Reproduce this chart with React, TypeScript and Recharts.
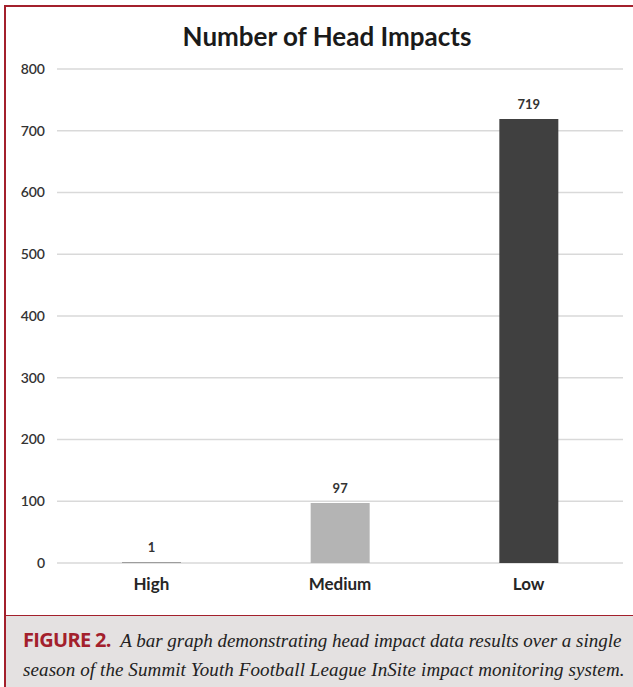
import { BarChart, Bar, XAxis, YAxis, CartesianGrid, LabelList, Cell } from "recharts";

const categories = ["High", "Medium", "Low"];
const impacts = [1, 97, 719];
const barColors = ["#595959", "#b4b4b4", "#404040"];
const yTicks = [0, 100, 200, 300, 400, 500, 600, 700, 800];

const RED = "#a3202c";

const data = categories.map((name, i) => ({ name, value: impacts[i] }));

export default function App() {
  return (
    <div
      style={{
        position: "absolute",
        left: 4,
        top: 5,
        width: 640,
        height: 700,
        borderLeft: `2px solid ${RED}`,
        borderTop: `2px solid ${RED}`,
        background: "#fff",
        overflow: "hidden",
      }}
    >
      <div
        style={{
          position: "absolute",
          left: 0,
          top: 13,
          width: 642,
          textAlign: "center",
          fontFamily: "Lato, sans-serif",
          fontWeight: 700,
          fontSize: 26,
          color: "#1a1a1a",
        }}
      >
        Number of Head Impacts
      </div>

      <div style={{ position: "absolute", left: 0, top: 0 }}>
        <BarChart
          width={629}
          height={608}
          data={data}
          margin={{ top: 62, right: 12, bottom: 12, left: 0 }}
        >
          <CartesianGrid vertical={false} stroke="#d9d9d9" strokeWidth={1.5} />
          <XAxis
            dataKey="name"
            axisLine={false}
            tickLine={false}
            tickSize={0}
            tickMargin={15}
            height={40}
            tick={{ fontSize: 17, fontWeight: 700, fill: "#262626", fontFamily: "Lato, sans-serif" }}
          />
          <YAxis
            domain={[0, 800]}
            ticks={yTicks}
            width={51}
            axisLine={false}
            tickLine={false}
            tickSize={0}
            tickMargin={12}
            tick={{ fontSize: 14, fontWeight: 600, fill: "#333", fontFamily: "Lato, sans-serif" }}
          />
          <Bar dataKey="value" barSize={59} isAnimationActive={false}>
            {data.map((d, i) => (
              <Cell key={d.name} fill={barColors[i]} />
            ))}
            <LabelList
              dataKey="value"
              position="top"
              offset={10}
              style={{ fontSize: 13, fontWeight: 700, fill: "#333", fontFamily: "Lato, sans-serif" }}
            />
          </Bar>
        </BarChart>
      </div>

      <div
        style={{
          position: "absolute",
          left: 0,
          top: 608,
          width: 640,
          height: 100,
          background: "#e4e1e1",
          borderTop: `1.5px solid ${RED}`,
        }}
      >
        <div
          style={{
            position: "absolute",
            left: 17,
            top: 9,
            whiteSpace: "nowrap",
            fontSize: 19,
            lineHeight: "29px",
            color: "#222",
          }}
        >
          <div>
            <span
              style={{
                fontFamily: "'Open Sans', sans-serif",
                fontWeight: 700,
                fontSize: 20,
                letterSpacing: -0.7,
                color: RED,
              }}
            >
              FIGURE 2.
            </span>
            <span style={{ fontFamily: "'Liberation Serif', serif", fontStyle: "italic", letterSpacing: 0 }}>
              {"  "}&nbsp;A bar graph demonstrating head impact data results over a single
            </span>
          </div>
          <div style={{ fontFamily: "'Liberation Serif', serif", fontStyle: "italic", letterSpacing: 0.1 }}>
            season of the Summit Youth Football League InSite impact monitoring system.
          </div>
        </div>
      </div>
    </div>
  );
}
